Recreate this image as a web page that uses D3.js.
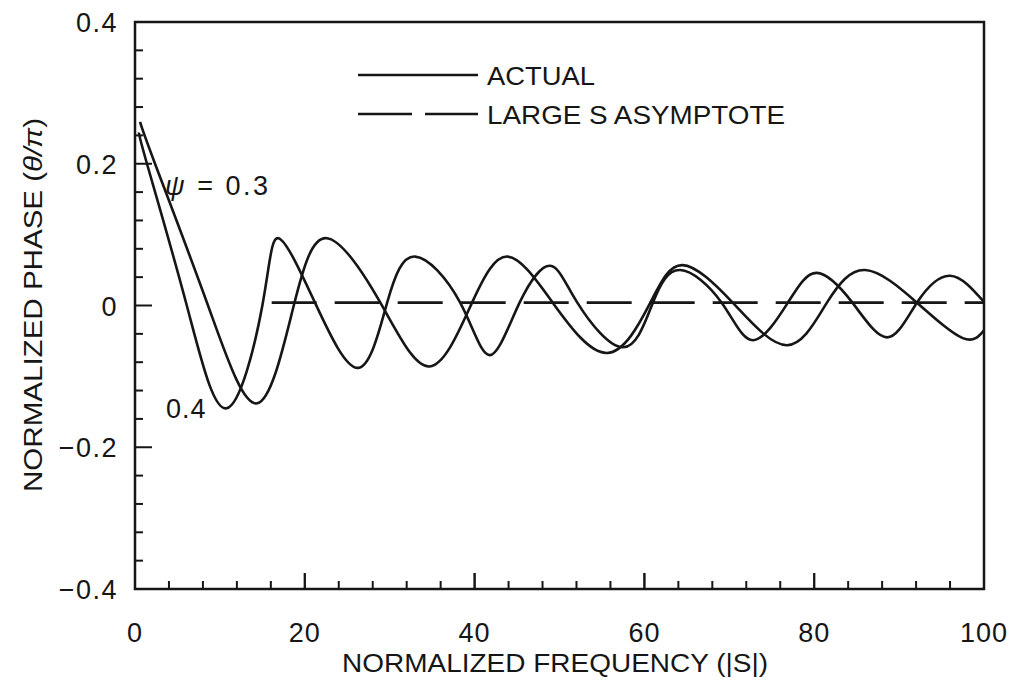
<!DOCTYPE html>
<html>
<head>
<meta charset="utf-8">
<script src="https://cdn.jsdelivr.net/npm/d3@7"></script>
<style>
  body { margin: 0; background: #fff; }
  svg { display: block; font-family: "Liberation Sans", "DejaVu Sans", sans-serif; }
</style>
</head>
<body>
<svg id="chart"></svg>
<script>
// psi = 0.3 curve (the outer one)
const psi03X = [0.59, 2.36, 8.6, 14.4, 18.7, 22.6, 28.9, 34.7, 39.7, 43.9, 49.2, 55.6, 60.7, 64.5, 70.4, 76.8, 81.5, 86.0, 92.1, 97.5, 100];
const psi03Y = [0.259, 0.2, 0, -0.138, 0, 0.095, 0.004, -0.086, 0.004, 0.069, 0.004, -0.067, 0.004, 0.057, 0.004, -0.056, 0.004, 0.05, 0.004, -0.046, -0.035];

// psi = 0.4 curve
const psi04X = [0.47, 1.41, 6.1, 10.8, 15.0, 16.9, 21.2, 26.3, 29.7, 33.0, 38.3, 41.8, 45.3, 48.9, 52.1, 57.5, 61.0, 64.2, 69.1, 72.8, 76.9, 80.3, 84.5, 88.6, 92.1, 96.0, 100];
const psi04Y = [0.244, 0.2, 0, -0.145, 0, 0.095, 0.004, -0.088, 0.004, 0.069, 0.004, -0.07, 0.004, 0.056, 0.004, -0.059, 0.004, 0.05, 0.004, -0.049, 0.004, 0.046, 0.004, -0.045, 0.004, 0.042, 0.005];

// large S asymptote
const asymX = [16.1, 100];
const asymY = [0.004, 0.004];

const xTickValues = [0, 20, 40, 60, 80, 100];
const xTickLabels = ["0", "20", "40", "60", "80", "100"];
const yTickValues = [0.4, 0.2, 0, -0.2, -0.4];
const yTickLabels = ["0.4", "0.2", "0", "\u22120.2", "\u22120.4"];

const width = 1013;
const height = 680;
const ink = "#161616";

const svg = d3.select("#chart")
  .attr("width", width)
  .attr("height", height);

const x = d3.scaleLinear().domain([0, 100]).range([135, 984]);
const y = d3.scaleLinear().domain([-0.4, 0.4]).range([589, 22]);

// frame
svg.append("rect")
  .attr("x", x(0))
  .attr("y", y(0.4))
  .attr("width", x(100) - x(0))
  .attr("height", y(-0.4) - y(0.4))
  .attr("fill", "none")
  .attr("stroke", ink)
  .attr("stroke-width", 2.5);

// inward ticks, bottom: every 4, long every 20
const xTicks = d3.range(0, 101, 4).concat(xTickValues);
svg.append("g")
  .selectAll("line")
  .data(xTicks)
  .enter()
  .append("line")
  .attr("x1", (d) => x(d))
  .attr("x2", (d) => x(d))
  .attr("y1", y(-0.4))
  .attr("y2", (d) => y(-0.4) - (d % 20 === 0 ? 16 : 8))
  .attr("stroke", ink)
  .attr("stroke-width", 2);

// inward ticks, left: every 0.04, long every 0.2
const yTicks = d3.range(0, 21).map((i) => -0.4 + i * 0.04);
svg.append("g")
  .selectAll("line")
  .data(yTicks)
  .enter()
  .append("line")
  .attr("x1", x(0))
  .attr("x2", (d, i) => x(0) + (i % 5 === 0 ? 17 : 8))
  .attr("y1", (d) => y(d))
  .attr("y2", (d) => y(d))
  .attr("stroke", ink)
  .attr("stroke-width", 2);

// tick labels
svg.append("g")
  .selectAll("text")
  .data(xTickValues)
  .enter()
  .append("text")
  .attr("x", (d) => x(d))
  .attr("y", 642)
  .attr("text-anchor", "middle")
  .attr("font-size", 27)
  .attr("letter-spacing", 1)
  .attr("fill", ink)
  .text((d, i) => xTickLabels[i]);

svg.append("g")
  .selectAll("text")
  .data(yTickValues)
  .enter()
  .append("text")
  .attr("x", 118)
  .attr("y", (d) => y(d) + 10)
  .attr("text-anchor", "end")
  .attr("font-size", 27)
  .attr("letter-spacing", 1.5)
  .attr("fill", ink)
  .text((d, i) => yTickLabels[i]);

// axis titles
svg.append("text")
  .attr("x", 342)
  .attr("y", 672)
  .attr("font-size", 25)
  .attr("textLength", 426)
  .attr("lengthAdjust", "spacingAndGlyphs")
  .attr("fill", ink)
  .text("NORMALIZED FREQUENCY (|S|)");

const yTitle = svg.append("text")
  .attr("transform", "translate(42,492) rotate(-90)")
  .attr("font-size", 25)
  .attr("textLength", 374)
  .attr("lengthAdjust", "spacingAndGlyphs")
  .attr("fill", ink);
yTitle.append("tspan").text("NORMALIZED PHASE (");
yTitle.append("tspan").attr("font-style", "italic").text("\u03b8/\u03c0");
yTitle.append("tspan").text(")");

// curves
const line = d3.line()
  .x((d) => x(d[0]))
  .y((d) => y(d[1]))
  .curve(d3.curveNatural);

const series = [
  { xs: psi03X, ys: psi03Y },
  { xs: psi04X, ys: psi04Y },
];

svg.append("g")
  .selectAll("path")
  .data(series)
  .enter()
  .append("path")
  .attr("d", (s) => line(s.xs.map((v, i) => [v, s.ys[i]])))
  .attr("fill", "none")
  .attr("stroke", ink)
  .attr("stroke-width", 2.6);

svg.append("path")
  .attr("d", d3.line().x((d) => x(d[0])).y((d) => y(d[1]))(asymX.map((v, i) => [v, asymY[i]])))
  .attr("fill", "none")
  .attr("stroke", ink)
  .attr("stroke-width", 2.6)
  .attr("stroke-dasharray", "45,18");

// curve labels
const psiLabel = svg.append("text")
  .attr("x", 165)
  .attr("y", 195)
  .attr("font-size", 27)
  .attr("letter-spacing", 2.5)
  .attr("xml:space", "preserve")
  .attr("fill", ink);
psiLabel.append("tspan").attr("font-style", "italic").text("\u03c8");
psiLabel.append("tspan").text(" = 0.3");

svg.append("text")
  .attr("x", 166)
  .attr("y", 418)
  .attr("font-size", 27)
  .attr("letter-spacing", 1)
  .attr("fill", ink)
  .text("0.4");

// legend
const legendData = [
  { label: "ACTUAL", dash: null, len: 108 },
  { label: "LARGE S ASYMPTOTE", dash: "54,13", len: 298 },
];

const legend = svg.append("g")
  .attr("transform", "translate(358, 75)");

const legendItems = legend.selectAll("g")
  .data(legendData)
  .enter()
  .append("g")
  .attr("transform", (d, i) => `translate(0, ${i * 39})`);

legendItems.append("line")
  .attr("x1", 0)
  .attr("x2", 120)
  .attr("y1", 0)
  .attr("y2", 0)
  .attr("stroke", ink)
  .attr("stroke-width", 2.6)
  .attr("stroke-dasharray", (d) => d.dash);

legendItems.append("text")
  .attr("x", 129)
  .attr("y", 10)
  .attr("font-size", 26)
  .attr("textLength", (d) => d.len)
  .attr("lengthAdjust", "spacingAndGlyphs")
  .attr("fill", ink)
  .text((d) => d.label);
</script>
</body>
</html>
